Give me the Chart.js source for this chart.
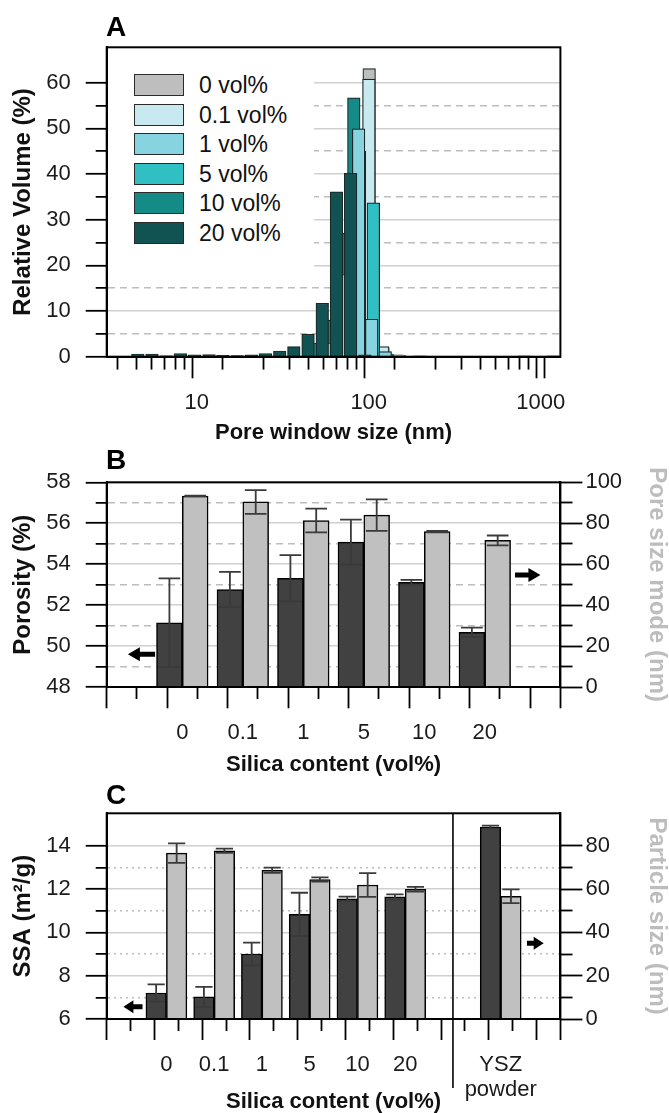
<!DOCTYPE html>
<html lang="en">
<head>
<meta charset="UTF-8">
<title>Pore size, porosity and SSA</title>
<script src="https://cdn.jsdelivr.net/npm/chart.js"></script>
<style>
  body { margin: 0; background: #fff; font-family: "Liberation Sans", Arial, sans-serif; }
  #page { position: relative; width: 669px; height: 1113px; overflow: hidden; }
  canvas { position: absolute; left: 0; }
  .letter { position: absolute; left: 106px; font: bold 28px/28px "Liberation Sans", Arial, sans-serif; color: #000; }
  #legendA { position: absolute; left: 108px; top: 49px; width: 206px; height: 226px; background: #fff; }
  #legendA .item { position: absolute; left: 26px; height: 24px; display: flex; align-items: center; }
  #legendA .swatch { width: 48px; height: 20px; border: 1.6px solid #2a2a2a; }
  #legendA .lbl { position: absolute; left: 65px; font-size: 23px; line-height: 24px; white-space: nowrap; color: #111; }
</style>
</head>
<body>
<div id="page">
  <canvas id="chartA" width="669" height="450" style="top:0px"></canvas>
  <canvas id="chartB" width="669" height="340" style="top:440px"></canvas>
  <canvas id="chartC" width="669" height="333" style="top:780px"></canvas>
  <div id="legendA"></div>
  <div class="letter" style="top:13px">A</div>
  <div class="letter" style="top:446px">B</div>
  <div class="letter" style="top:781px">C</div>
</div>

<script>
  // ---- panel A: pore window size distribution ----
  const poreSeries = ['0 vol%', '0.1 vol%', '1 vol%', '5 vol%', '10 vol%', '20 vol%'];
  const poreColors = ['#bebebe', '#c9e9f1', '#87d3e0', '#30bfc2', '#158b88', '#115352'];
  const poreOrder = [5, 4, 1, 2, 3, 0];   // smaller number drawn on top

  const size0 = [69.6, 83.6, 100.6, 121, 145.6, 198, 290, 350, 800, 1180];
  const vol0 = [3, 28, 63.1, 2.0, 0.4, 0.2, 0.15, 0.15, 0.2, 0.2];
  const size01 = [69.3, 83.3, 100.2, 120.5, 145];
  const vol01 = [4, 30, 60.8, 2.2, 0.3];
  const size1 = [60.5, 72.6, 87.3, 104, 124.7, 150];
  const vol1 = [3, 18, 49.9, 8.2, 1.1, 0.3];
  const size5 = [61, 73.5, 88.4, 106.4, 128];
  const vol5 = [2, 10, 45, 33.7, 0.6];
  const size10 = [46.7, 56.3, 67.9, 81.9];
  const vol10 = [3, 8, 27, 56.7];
  const size20 = [4.55, 5.5, 6.65, 8.04, 9.72, 11.8, 14.2, 17.2, 20.8, 25.1, 30.4, 36.7, 44.4, 53.7, 64.9, 78.5, 94.9];
  const vol20 = [0.6, 0.55, 0.2, 0.7, 0.4, 0.45, 0.3, 0.25, 0.4, 0.7, 1.25, 2.2, 4.9, 11.7, 36.1, 40.15, 0.4];
  const sizeTicks = [10, 100, 1000];

  // ---- panel B: porosity and pore size mode ----
  const silicaLabels = ['0', '0.1', '1', '5', '10', '20'];
  const silicaPos = [1, 2, 3, 4, 5, 6];
  const porosity = [51.14, 52.76, 53.31, 55.08, 53.11, 50.67];
  const porosityErr = [2.17, 0.86, 1.13, 1.1, 0.12, 0.23];
  const poreMode = [93.3, 90.4, 81.3, 84.0, 75.9, 71.6];
  const poreModeErr = [0.2, 5.8, 5.8, 7.7, 0.3, 2.4];

  // ---- panel C: SSA and particle size ----
  const ssaLabels = ['0', '0.1', '1', '5', '10', '20', ['YSZ', 'powder']];
  const ssaPos = [1, 2, 3, 4, 5, 6, 8];
  const ssa = [7.2, 7.02, 9.0, 10.83, 11.55, 11.64, 14.86];
  const ssaErr = [0.4, 0.46, 0.53, 1.0, 0.1, 0.12, 0.07];
  const particleSize = [76.6, 77.7, 68.7, 64.4, 61.9, 59.9, 56.7];
  const particleErr = [4.5, 1.0, 1.2, 1.0, 5.5, 1.1, 3.2];

  Chart.defaults.font.family = '"Liberation Sans", Arial, sans-serif';
  Chart.defaults.color = '#1b1b1b';
  Chart.defaults.animation = false;

  const tickFont = { size: 22, lineHeight: 1.15 };
  const yTitleFont = { size: 24, weight: 'bold', lineHeight: 1 };
  const xTitleFont = { size: 22, weight: 'bold', lineHeight: 1 };
  const clear = 'rgba(0,0,0,0)';

  const onStep = (v, step) => Math.abs(v / step - Math.round(v / step)) < 1e-6;
  const keepStep = step => s => { s.ticks = s.ticks.filter(t => onStep(t.value, step)); };
  const tv = c => (c.tick ? c.tick.value : NaN);

  // y grid: solid at major, dashed at minor, outward ticks (long/short)
  function leftGrid(major) {
    return {
      lineWidth: 1.6,
      color: c => !c.tick || tv(c) === c.scale.min ? clear : (onStep(tv(c), major) ? '#d0d0d0' : '#bdbdbd'),
      tickLength: 21, tickWidth: 1.8, tickColor: '#000',
      tickBorderDash: c => !c.tick || onStep(tv(c), major) ? [] : [0, 10, 11, 60]
    };
  }
  function leftBorder(major, dash) {
    return { color: '#000', width: 2, dash: c => !c.tick || onStep(tv(c), major) ? [] : dash };
  }
  function rightGrid(major) {
    return {
      drawOnChartArea: false,
      tickLength: 22, tickWidth: 1.8, tickColor: '#000',
      tickBorderDash: c => !c.tick || onStep(tv(c), major) ? [] : [11.5, 60]
    };
  }

  const frame = {
    id: 'frame',
    afterDatasetsDraw(chart) {
      const { ctx, chartArea: a } = chart;
      ctx.save();
      ctx.strokeStyle = '#000';
      ctx.lineWidth = 2;
      ctx.strokeRect(a.left, a.top, a.width, a.height);
      ctx.restore();
    }
  };

  const errorBars = {
    id: 'errorBars',
    afterDatasetsDraw(chart) {
      const { ctx } = chart;
      chart.data.datasets.forEach((ds, i) => {
        if (!ds.errors) return;
        const meta = chart.getDatasetMeta(i);
        const yScale = chart.scales[meta.yAxisID];
        meta.data.forEach((bar, j) => {
          const v = ds.data[j].y, e = ds.errors[j];
          const top = yScale.getPixelForValue(v + e);
          const bottom = yScale.getPixelForValue(v - e);
          const half = bar.width * 0.42;
          ctx.save();
          ctx.strokeStyle = '#3a3a3a';
          ctx.lineWidth = 1.8;
          ctx.beginPath();
          ctx.moveTo(bar.x, top); ctx.lineTo(bar.x, bottom);
          ctx.moveTo(bar.x - half, top); ctx.lineTo(bar.x + half, top);
          ctx.moveTo(bar.x - half, bottom); ctx.lineTo(bar.x + half, bottom);
          ctx.stroke();
          ctx.restore();
        });
      });
    }
  };

  const arrows = {
    id: 'arrows',
    afterDraw(chart, args, opts) {
      const { ctx } = chart;
      (opts.items || []).forEach(a => {
        const x0 = chart.scales.x.getPixelForValue(a.from);
        const x1 = chart.scales.x.getPixelForValue(a.to);
        const y = chart.scales.y.getPixelForValue(a.at);
        const d = Math.sign(x1 - x0);
        const hx = x1 - d * a.head;
        ctx.save();
        ctx.fillStyle = '#000';
        ctx.beginPath();
        ctx.moveTo(x1, y);
        ctx.lineTo(hx, y - a.size / 2);
        ctx.lineTo(hx, y - a.shaft / 2);
        ctx.lineTo(x0, y - a.shaft / 2);
        ctx.lineTo(x0, y + a.shaft / 2);
        ctx.lineTo(hx, y + a.shaft / 2);
        ctx.lineTo(hx, y + a.size / 2);
        ctx.closePath();
        ctx.fill();
        ctx.restore();
      });
    }
  };

  const separator = {
    id: 'separator',
    afterDraw(chart, args, opts) {
      if (opts.at === undefined) return;
      const { ctx, chartArea: a } = chart;
      const x = chart.scales.x.getPixelForValue(opts.at);
      ctx.save();
      ctx.strokeStyle = '#000';
      ctx.lineWidth = 1.6;
      ctx.beginPath();
      ctx.moveTo(x, a.top);
      ctx.lineTo(x, a.bottom + opts.extend);
      ctx.stroke();
      ctx.restore();
    }
  };

  // ---------- Chart A ----------
  const poreSizes = [size0, size01, size1, size5, size10, size20];
  const poreVols = [vol0, vol01, vol1, vol5, vol10, vol20];

  const legendA = document.getElementById('legendA');
  poreSeries.forEach((label, i) => {
    const row = document.createElement('div');
    row.className = 'item';
    row.style.top = (24 + i * 29.5) + 'px';
    row.innerHTML = '<span class="swatch" style="background:' + poreColors[i] + '"></span><span class="lbl">' + label + '</span>';
    legendA.appendChild(row);
  });

  new Chart(document.getElementById('chartA'), {
    type: 'bar',
    data: {
      datasets: poreSeries.map((label, i) => ({
        label: label,
        data: poreSizes[i].map((x, j) => ({ x: x, y: poreVols[i][j] })),
        backgroundColor: poreColors[i],
        borderColor: '#1c2828',
        borderWidth: 1.2,
        barThickness: 12.6,
        stack: 'all',
        order: poreOrder[i]
      }))
    },
    options: {
      responsive: false,
      layout: { padding: { top: 47.3, right: 108.6, left: 0, bottom: 0 } },
      plugins: { legend: { display: false }, tooltip: { enabled: false } },
      scales: {
        x: {
          type: 'logarithmic', min: 3, max: 1300,
          afterBuildTicks: s => {
            const t = [];
            for (let d = 1; d <= 1000; d *= 10) {
              for (let m = 1; m <= 9; m++) {
                const v = m * d;
                if (v >= 3 && v <= 1000) t.push({ value: v, major: m === 1 });
              }
            }
            s.ticks = t;
          },
          afterFit: s => { s.height = 93.3; },
          grid: {
            drawOnChartArea: false, tickLength: 21.6, tickWidth: 1.8, tickColor: '#000',
            tickBorderDash: c => !c.tick || sizeTicks.includes(tv(c)) ? [] : [11.6, 60]
          },
          border: { color: '#000', width: 2 },
          ticks: {
            autoSkip: false, maxRotation: 0, padding: 12, font: tickFont,
            callback: v => sizeTicks.includes(v) ? String(v) : ''
          },
          title: { display: true, text: 'Pore window size (nm)', font: xTitleFont, color: '#111', padding: { top: 0, bottom: 6 } }
        },
        y: {
          min: 0, max: 67.75, stacked: false,
          afterBuildTicks: keepStep(5),
          afterFit: s => { s.width = 106.7; },
          grid: leftGrid(10),
          border: leftBorder(10, [7, 5]),
          ticks: { stepSize: 5, autoSkip: false, padding: 15, font: tickFont, callback: v => onStep(v, 10) ? v : '' },
          title: { display: true, text: 'Relative Volume (%)', font: yTitleFont, color: '#111', padding: { top: 11.6, bottom: 0 } }
        }
      }
    },
    plugins: [frame]
  });

  // ---------- Chart B ----------
  new Chart(document.getElementById('chartB'), {
    type: 'bar',
    data: {
      datasets: [{
        label: 'Porosity',
        data: silicaPos.map((x, i) => ({ x: x, y: porosity[i] })),
        errors: porosityErr,
        yAxisID: 'y',
        backgroundColor: '#414141', borderColor: '#000', borderWidth: 1.5,
        barThickness: 25.8
      }, {
        label: 'Pore size mode',
        data: silicaPos.map((x, i) => ({ x: x, y: poreMode[i] })),
        errors: poreModeErr,
        yAxisID: 'y1',
        backgroundColor: '#c0c0c0', borderColor: '#000', borderWidth: 1.5,
        barThickness: 25.8
      }]
    },
    options: {
      responsive: false,
      layout: { padding: { top: 42.3, right: 0, left: 0, bottom: 0 } },
      plugins: {
        legend: { display: false }, tooltip: { enabled: false },
        arrows: { items: [
          { from: 0.55, to: 0.1, at: 49.6, head: 12, size: 14, shaft: 5 },
          { from: 6.5, to: 6.92, at: 53.47, head: 12, size: 14, shaft: 5 }
        ] }
      },
      scales: {
        x: {
          type: 'linear', min: 0, max: 7,
          afterFit: s => { s.height = 93; },
          grid: {
            drawOnChartArea: false, tickLength: 21.3, tickWidth: 1.8, tickColor: '#000',
            tickBorderDash: c => !c.tick || Number.isInteger(tv(c)) ? [] : [11, 60]
          },
          border: { color: '#000', width: 2 },
          ticks: {
            stepSize: 0.5, autoSkip: false, maxRotation: 0, padding: 12, font: tickFont,
            callback: v => silicaPos.includes(v) ? silicaLabels[silicaPos.indexOf(v)] : ''
          },
          title: { display: true, text: 'Silica content (vol%)', font: xTitleFont, color: '#111', padding: { top: 0, bottom: 4 } }
        },
        y: {
          position: 'left', min: 48, max: 58,
          afterFit: s => { s.width = 106.7; },
          grid: leftGrid(2),
          border: leftBorder(2, [7, 5]),
          ticks: { stepSize: 1, autoSkip: false, padding: 15, font: tickFont, callback: v => onStep(v, 2) ? v : '' },
          title: { display: true, text: 'Porosity (%)', font: yTitleFont, color: '#111', padding: { top: 11.6, bottom: 0 } }
        },
        y1: {
          position: 'right', min: 0, max: 100,
          afterFit: s => { s.width = 108.6; },
          grid: rightGrid(20),
          border: { color: '#000', width: 2 },
          ticks: { stepSize: 10, autoSkip: false, padding: 3, font: tickFont, callback: v => onStep(v, 20) ? v : '' },
          title: { display: true, text: 'Pore size mode (nm)', font: yTitleFont, color: '#bdbdbd', padding: { top: 0, bottom: 0 } }
        }
      }
    },
    plugins: [frame, errorBars, arrows]
  });

  // ---------- Chart C ----------
  new Chart(document.getElementById('chartC'), {
    type: 'bar',
    data: {
      datasets: [{
        label: 'SSA',
        data: ssaPos.map((x, i) => ({ x: x, y: ssa[i] })),
        errors: ssaErr,
        yAxisID: 'y',
        backgroundColor: '#414141', borderColor: '#000', borderWidth: 1.5,
        barThickness: 20.5
      }, {
        label: 'Particle size',
        data: ssaPos.map((x, i) => ({ x: x, y: particleSize[i] })),
        errors: particleErr,
        yAxisID: 'y1',
        backgroundColor: '#c0c0c0', borderColor: '#000', borderWidth: 1.5,
        barThickness: 20.5
      }]
    },
    options: {
      responsive: false,
      layout: { padding: { top: 33.3, right: 0, left: 0, bottom: 0 } },
      plugins: {
        legend: { display: false }, tooltip: { enabled: false },
        arrows: { items: [
          { from: 0.5, to: 0.1, at: 6.57, head: 10, size: 13, shaft: 5 },
          { from: 8.55, to: 8.9, at: 9.5, head: 10, size: 13, shaft: 5 }
        ] },
        separator: { at: 7, extend: 69 }
      },
      scales: {
        x: {
          type: 'linear', min: 0, max: 9,
          afterFit: s => { s.height = 94; },
          grid: {
            drawOnChartArea: false, tickLength: 21, tickWidth: 1.8, tickColor: '#000',
            tickBorderDash: c => !c.tick || Number.isInteger(tv(c)) ? [] : [11, 60]
          },
          border: { color: '#000', width: 2 },
          ticks: {
            stepSize: 0.5, autoSkip: false, maxRotation: 0, padding: 12, font: tickFont,
            callback: v => ssaPos.includes(v) ? ssaLabels[ssaPos.indexOf(v)] : ''
          },
          title: { display: true, text: 'Silica content (vol%)', font: xTitleFont, color: '#111', padding: { top: 0, bottom: 0 } }
        },
        y: {
          position: 'left', min: 6, max: 15.5,
          afterBuildTicks: keepStep(1),
          afterFit: s => { s.width = 106.7; },
          grid: leftGrid(2),
          border: leftBorder(2, [2, 4]),
          ticks: { stepSize: 1, autoSkip: false, padding: 15, font: tickFont, callback: v => onStep(v, 2) ? v : '' },
          title: { display: true, text: 'SSA (m²/g)', font: yTitleFont, color: '#111', padding: { top: 11.6, bottom: 0 } }
        },
        y1: {
          position: 'right', min: 0, max: 95,
          afterBuildTicks: keepStep(10),
          afterFit: s => { s.width = 108.6; },
          grid: rightGrid(20),
          border: { color: '#000', width: 2 },
          ticks: { stepSize: 10, autoSkip: false, padding: 3, font: tickFont, callback: v => onStep(v, 20) ? v : '' },
          title: { display: true, text: 'Particle size (nm)', font: yTitleFont, color: '#bdbdbd', padding: { top: 0, bottom: 0 } }
        }
      }
    },
    plugins: [frame, errorBars, arrows, separator]
  });
</script>
</body>
</html>
